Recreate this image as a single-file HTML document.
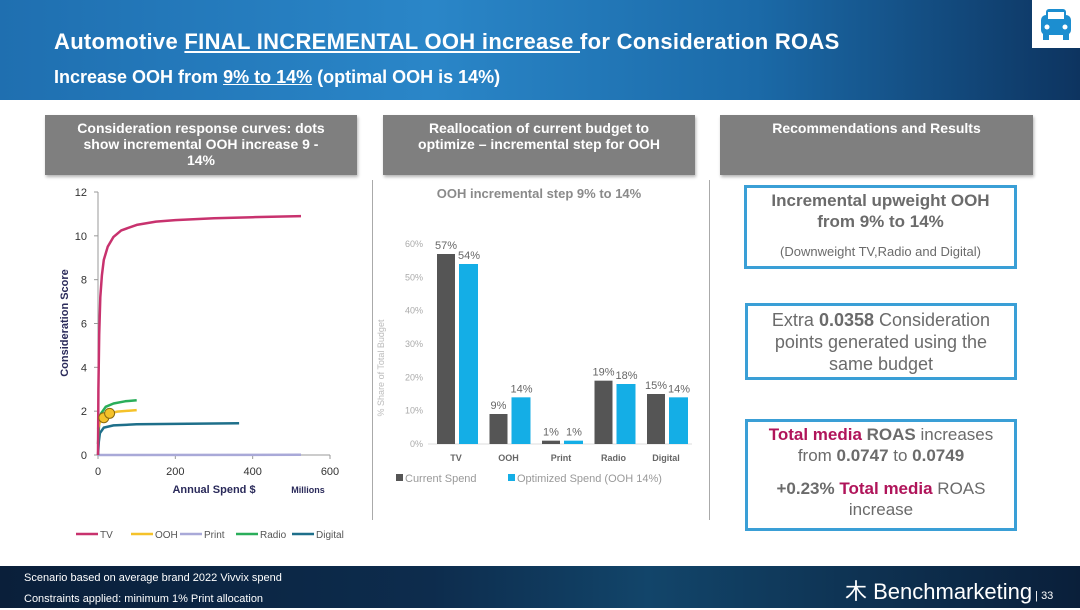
<!DOCTYPE html>
<html><head><meta charset="utf-8">
<style>
*{margin:0;padding:0;box-sizing:border-box}
body{width:1080px;height:608px;overflow:hidden;background:#fff;font-family:"Liberation Sans","DejaVu Sans",sans-serif;position:relative}
.abs{position:absolute}
.hdr{background:linear-gradient(90deg,#1f6fb0 0%,#2a86c8 40%,#1b6aa8 70%,#0d3460 100%);left:0;top:0;width:1080px;height:100px}
.gray{background:#7f7f7f;color:#fff;font-weight:bold;font-size:14px;text-align:center;line-height:16px;padding-top:5px;box-shadow:1px 2px 3px rgba(0,0,0,.3)}
.box{border:3px solid #3a9fd6;text-align:center;color:#6b6b6b}
.ftr{left:0;top:566px;width:1080px;height:42px;background:linear-gradient(90deg,#0a1f3a,#0d2c4d 40%,#12456a 60%,#0a1f3a)}
b.m{color:#b0145a}
</style></head><body>
<div class="abs hdr"></div>
<div class="abs" style="left:54px;top:29px;color:#fff;font-weight:bold;font-size:22px;letter-spacing:0.3px">Automotive <u>FINAL INCREMENTAL OOH increase </u>for Consideration ROAS</div>
<div class="abs" style="left:54px;top:67px;color:#fff;font-weight:bold;font-size:18px">Increase OOH from <u>9% to 14%</u> (optimal OOH is 14%)</div>
<div class="abs" style="left:1032px;top:0;width:48px;height:48px;background:#fff">
<svg width="48" height="48"><rect x="9" y="15" width="30" height="20" rx="5" fill="#1c8ed0"/><rect x="14" y="9" width="20" height="12" rx="3" fill="#1c8ed0"/><rect x="16" y="12" width="16" height="7" fill="#fff"/><rect x="11" y="34" width="6" height="6" fill="#1c8ed0"/><rect x="31" y="34" width="6" height="6" fill="#1c8ed0"/><circle cx="15" cy="27" r="2.5" fill="#fff"/><circle cx="33" cy="27" r="2.5" fill="#fff"/></svg></div>

<div class="abs gray" style="left:45px;top:115px;width:312px;height:60px">Consideration response curves: dots<br>show incremental OOH increase 9 -<br>14%</div>
<div class="abs gray" style="left:383px;top:115px;width:312px;height:60px">Reallocation of current budget to<br>optimize – incremental step for OOH</div>
<div class="abs gray" style="left:720px;top:115px;width:313px;height:60px">Recommendations and Results</div>
<div class="abs" style="left:372px;top:180px;width:1px;height:340px;background:#aaa"></div>
<div class="abs" style="left:709px;top:180px;width:1px;height:340px;background:#aaa"></div>

<svg class="abs" style="left:0;top:0" width="1080" height="608" id="charts"></svg>

<div class="abs box" style="left:744px;top:185px;width:273px;height:84px"><div style="font-weight:bold;font-size:17px;line-height:21px;margin-top:2px">Incremental upweight OOH<br>from 9% to 14%</div><div style="font-size:13px;margin-top:12px">(Downweight TV,Radio and Digital)</div></div>
<div class="abs box" style="left:745px;top:303px;width:272px;height:77px"><div style="font-size:18px;line-height:22px;margin-top:3px">Extra <b>0.0358</b> Consideration<br>points generated using the<br>same budget</div></div>
<div class="abs box" style="left:745px;top:419px;width:272px;height:112px"><div style="font-size:17px;line-height:21px;margin-top:2px"><b class="m">Total media</b> <b>ROAS</b> increases<br>from <b>0.0747</b> to <b>0.0749</b></div><div style="font-size:17px;line-height:21px;margin-top:12px"><b>+0.23%</b> <b class="m">Total media</b> ROAS<br>increase</div></div>

<div class="abs ftr"></div>
<div class="abs" style="left:24px;top:568px;color:#fff;font-size:11px;line-height:21px">Scenario based on average brand 2022 Vivvix spend<br>Constraints applied: minimum 1% Print allocation</div>
<div class="abs" style="left:845px;top:574px;color:#fff;font-size:22px">⽊ Benchmarketing<span style="font-size:11px"> | 33</span></div>

<script>
const NS='http://www.w3.org/2000/svg';
const svg=document.getElementById('charts');
function mk(t,a,p){const e=document.createElementNS(NS,t);for(const k in a)e.setAttribute(k,a[k]);(p||svg).appendChild(e);return e;}
function tx(s,a){const e=mk('text',a);e.textContent=s;return e;}

// ---- Response curves data ----
const seriesNames=['TV','OOH','Print','Radio','Digital'];
const seriesColors=['#c8326e','#f5c22a','#a9a9d8','#2aae5a','#1e6f8a'];
const tvSpend=[0,1,3,6,10,15,25,40,60,100,150,200,300,400,525];
const tvScore=[0,3,5.5,7.2,8.2,8.9,9.5,9.95,10.25,10.5,10.65,10.72,10.8,10.85,10.9];
const oohSpend=[0,5,15,30,50,100];
const oohScore=[1.2,1.5,1.7,1.9,1.98,2.05];
const printSpend=[0,525];
const printScore=[0,0.01];
const radioSpend=[0,3,8,20,40,70,100];
const radioScore=[0.5,1.5,1.9,2.2,2.35,2.45,2.5];
const digitalSpend=[0,2,5,15,40,100,200,365];
const digitalScore=[0,0.6,1.0,1.25,1.35,1.4,1.42,1.45];
const dotSpend=[15,30];
const dotScore=[1.7,1.9];
const xTicks=[0,200,400,600];
const yTicks=[0,2,4,6,8,10,12];

const xs=v=>98+v*(232/600), ys=v=>455-v*(263/12);
mk('line',{x1:98,y1:455,x2:330,y2:455,stroke:'#999'});
mk('line',{x1:98,y1:192,x2:98,y2:455,stroke:'#999'});
xTicks.forEach(t=>{mk('line',{x1:xs(t),y1:455,x2:xs(t),y2:459,stroke:'#999'});const e=tx(t,{x:xs(t),y:475,'font-size':11,fill:'#333','text-anchor':'middle'});});
yTicks.forEach(t=>{mk('line',{x1:94,y1:ys(t),x2:98,y2:ys(t),stroke:'#999'});const e=tx(t,{x:87,y:ys(t)+4,'font-size':11,fill:'#333','text-anchor':'end'});});
let e=tx('Annual Spend $',{x:214,y:493,'font-size':11,'font-weight':'bold',fill:'#2a2a5a','text-anchor':'middle'});

e=tx('Millions',{x:308,y:493,'font-size':9,'font-weight':'bold',fill:'#2a2a5a','text-anchor':'middle'});

e=tx('Consideration Score',{x:0,y:0,'font-size':11,'font-weight':'bold',fill:'#2a2a5a','text-anchor':'middle',transform:'translate(68,323) rotate(-90)'});

const sx=[tvSpend,oohSpend,printSpend,radioSpend,digitalSpend], sy=[tvScore,oohScore,printScore,radioScore,digitalScore];
[2,4,3,1,0].forEach(i=>{
  const d=sx[i].map((v,j)=>(j?'L':'M')+xs(v).toFixed(1)+','+ys(sy[i][j]).toFixed(1)).join(' ');
  const p=mk('path',{d:d,fill:'none',stroke:seriesColors[i],'stroke-width':2.5,'stroke-linejoin':'round'});
  
  
});
dotSpend.forEach((v,i)=>{const c=mk('circle',{cx:xs(v),cy:ys(dotScore[i]),r:5,fill:'#f5c22a',stroke:'#8a6a10','stroke-width':1});

});
const legX=[76,131,180,236,292];
seriesNames.forEach((n,i)=>{const g=mk('g',{});


mk('line',{x1:legX[i],y1:534,x2:legX[i]+22,y2:534,stroke:seriesColors[i],'stroke-width':2.5},g);
const t=mk('text',{x:legX[i]+24,y:538,'font-size':10,fill:'#555'},g);t.textContent=n;});

// ---- Bar chart data ----
const categories=['TV','OOH','Print','Radio','Digital'];
const currentSpend=[57,9,1,19,15];
const optimizedSpend=[54,14,1,18,14];
const pctTicks=[0,10,20,30,40,50,60];
const bx=i=>456+i*52.5, by=v=>444-v*(200/60);
e=tx('OOH incremental step 9% to 14%',{x:539,y:198,'font-size':13,'font-weight':'bold',fill:'#8a8a8a','text-anchor':'middle'});

pctTicks.forEach(t=>{const e=tx(t+'%',{x:423,y:by(t)+3,'font-size':9,fill:'#aaa','text-anchor':'end'});});
e=tx('% Share of Total Budget',{x:0,y:0,'font-size':9,fill:'#bbb','text-anchor':'middle',transform:'translate(384,368) rotate(-90)'});

mk('line',{x1:428,y1:444,x2:692,y2:444,stroke:'#ddd'});
categories.forEach((c,i)=>{
  const cx=bx(i);
  let r=mk('rect',{x:cx-19,y:by(currentSpend[i]),width:18,height:currentSpend[i]*200/60,fill:'#555'});
  
  
  r=mk('rect',{x:cx+3,y:by(optimizedSpend[i]),width:19,height:optimizedSpend[i]*200/60,fill:'#14aee6'});
  
  
  let t=tx(currentSpend[i]+'%',{x:cx-10,y:by(currentSpend[i])-5,'font-size':11,fill:'#666','text-anchor':'middle'});
  
  t=tx(optimizedSpend[i]+'%',{x:cx+13,y:by(optimizedSpend[i])-5,'font-size':11,fill:'#666','text-anchor':'middle'});
  
  t=tx(c,{x:cx,y:461,'font-size':9,'font-weight':'bold',fill:'#666','text-anchor':'middle'});
  
});
let g=mk('g',{});
mk('rect',{x:396,y:474,width:7,height:7,fill:'#555'},g);
mk('text',{x:405,y:482,'font-size':11,fill:'#999'},g).textContent='Current Spend';
g=mk('g',{});
mk('rect',{x:508,y:474,width:7,height:7,fill:'#14aee6'},g);
mk('text',{x:517,y:482,'font-size':11,fill:'#999'},g).textContent='Optimized Spend (OOH 14%)';
</script>
</body></html>
